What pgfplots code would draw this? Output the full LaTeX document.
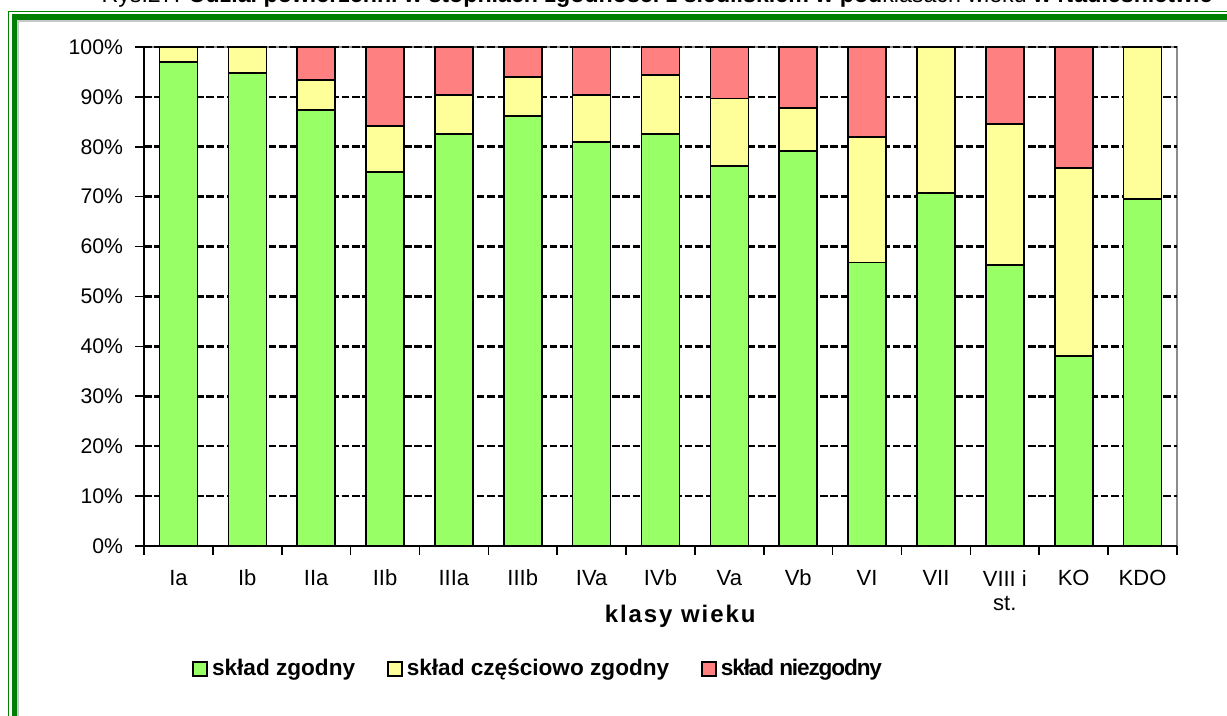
\documentclass[border=0pt]{standalone}
\usepackage{fontspec}
\setmainfont{Liberation Sans}
\usepackage{pgfplots}
\pgfplotsset{compat=1.18}
\definecolor{cgreen}{HTML}{99FF66}
\definecolor{cyellow}{HTML}{FFFF99}
\definecolor{cred}{HTML}{FF8080}
\definecolor{framegreen}{HTML}{008000}
\definecolor{framegray}{HTML}{C8C8C8}
\begin{document}
\begin{tikzpicture}
\useasboundingbox (0,0) rectangle (613.5pt,358pt);
\clip (0,0) rectangle (613.5pt,358pt);
% frame
\draw[framegreen, line width=0.8pt] (4.25pt,-20pt) -- (4.25pt,352.25pt) -- (640pt,352.25pt);
\draw[framegreen, line width=2.9pt] (7.25pt,-20pt) -- (7.25pt,349.5pt) -- (640pt,349.5pt);
\draw[framegray, line width=0.8pt] (9.1pt,-20pt) -- (9.1pt,347.4pt) -- (640pt,347.4pt);
% title (cut at top, as in the reference)
\node[anchor=base, inner sep=0pt, font=\fontsize{11.6}{13}\selectfont] at (328.5pt,356.5pt)
  {Rys.27. \textbf{Udział powierzchni w stopniach zgodności z siedliskiem w pod}klasach wieku \textbf{w Nadleśnictwie}};
\begin{axis}[
  at={(72pt,85pt)}, anchor=south west,
  width=516.5pt, height=249.5pt, scale only axis,
  axis background/.style={draw=black!45, line width=0.8pt},
  ybar stacked, bar width=19pt,
  xmin=-0.5, xmax=14.5, ymin=0, ymax=100,
  axis x line*=bottom, axis y line*=left,
  axis line style={black, line width=0.9pt},
  ytick={0,10,...,100},
  yticklabel={\pgfmathprintnumber{\tick}\%},
  /pgf/number format/assume math mode=true,
  tick align=outside,
  major tick length=4.5pt,
  tick style={black, line width=0.8pt},
  yticklabel style={font=\fontsize{10.6}{12}\selectfont, xshift=-2.5pt},
  ymajorgrids,
  major grid style={black, line width=1.3pt, dash pattern=on 3.8pt off 1.4pt},
  xtick={-0.5,0.5,...,14.5},
  xticklabels={},
  extra x ticks={0,1,...,14},
  extra x tick labels={Ia,Ib,IIa,IIb,IIIa,IIIb,IVa,IVb,Va,Vb,VI,VII,{VIII i\\st.},KO,KDO},
  extra x tick style={major tick length=0pt, xmajorgrids=false,
     xticklabel style={font=\fontsize{11}{12}\selectfont, align=center, anchor=north, yshift=-8.5pt}},
  xlabel={\addfontfeature{LetterSpace=8}klasy wieku},
  xlabel style={at={(rel axis cs:0.519,-0.154)}, anchor=base, font=\fontsize{12}{14}\selectfont\bfseries},
  every axis plot/.append style={draw=black, line width=0.8pt},
  legend columns=3,
  legend style={at={(rel axis cs:0.0465,-0.2465)}, anchor=west, draw=none, fill=none,
     font=\fontsize{11.3}{13}\selectfont\bfseries, inner sep=0pt,
     /tikz/every even column/.append style={column sep=14pt}},
  legend image code/.code={\draw[#1, draw=black, line width=0.8pt] (0pt,-3.5pt) rectangle (7pt,3.5pt);},
]
\addplot[fill=cgreen] coordinates {(0,97.0) (1,94.8) (2,87.4) (3,75.0) (4,82.6) (5,86.2) (6,81.0) (7,82.6) (8,76.2) (9,79.2) (10,56.8) (11,70.7) (12,56.3) (13,38.1) (14,69.5)};
\addplot[fill=cyellow] coordinates {(0,3.0) (1,5.2) (2,6.0) (3,9.2) (4,7.8) (5,7.8) (6,9.4) (7,11.8) (8,13.5) (9,8.6) (10,25.2) (11,29.3) (12,28.3) (13,37.7) (14,30.5)};
\addplot[fill=cred] coordinates {(0,0) (1,0) (2,6.6) (3,15.8) (4,9.6) (5,6.0) (6,9.6) (7,5.6) (8,10.3) (9,12.2) (10,18.0) (11,0) (12,15.4) (13,24.2) (14,0)};
\legend{skład zgodny,skład częściowo zgodny,{\addfontfeature{LetterSpace=-5}skład niezgodny}}
\end{axis}
\end{tikzpicture}
\end{document}
